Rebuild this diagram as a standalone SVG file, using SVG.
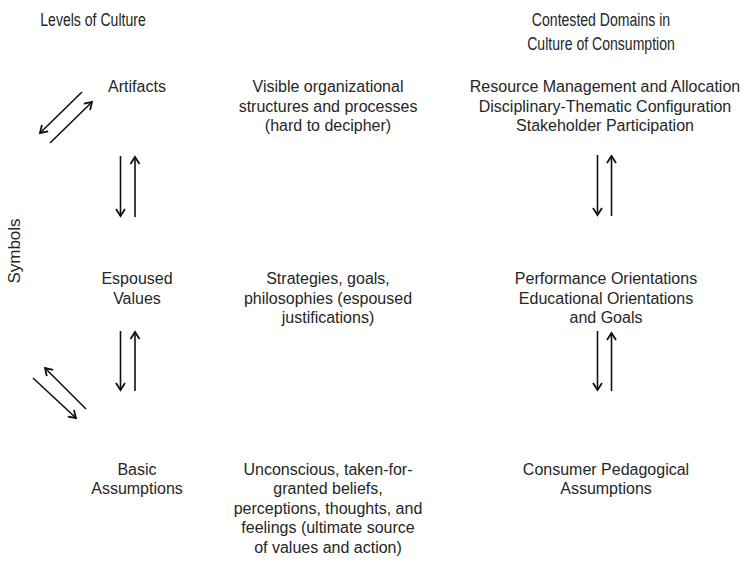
<svg xmlns="http://www.w3.org/2000/svg" width="749" height="562" viewBox="0 0 749 562">
<defs>
<style>
text{font-family:"Liberation Sans",Arial,sans-serif;fill:#262626;}
.t{font-size:16px;text-anchor:middle;}
.h{font-size:19px;text-anchor:middle;}
.s{font-size:17px;text-anchor:middle;}
.c{stroke:#111;stroke-width:1.6;fill:none;}
</style>
<marker id="ah" viewBox="-9 -6 11 12" markerWidth="11" markerHeight="12" refX="0" refY="0" orient="auto" markerUnits="userSpaceOnUse">
<path d="M-7,-4.5 L0,0 L-7,4.5" fill="none" stroke="#111" stroke-width="1.8"/>
</marker>
</defs>
<rect width="749" height="562" fill="#fff"/>
<g id="titles">
<text class="h" transform="translate(93,26) scale(0.74,1)">Levels of Culture</text>
<text class="h" transform="translate(601,26) scale(0.74,1)">Contested Domains in</text>
<text class="h" transform="translate(601,50) scale(0.74,1)">Culture of Consumption</text>
</g>
<g id="symbols">
<text class="s" transform="translate(20,251) rotate(-90)">Symbols</text>
</g>
<g id="artifacts"><text class="t" x="137" y="92">Artifacts</text></g>
<g id="artifacts-desc">
<text class="t" x="328" y="92">Visible organizational</text>
<text class="t" x="328" y="111.5">structures and processes</text>
<text class="t" x="328" y="131">(hard to decipher)</text>
</g>
<g id="domains-1">
<text class="t" x="605" y="92">Resource Management and Allocation</text>
<text class="t" x="605" y="111.5">Disciplinary-Thematic Configuration</text>
<text class="t" x="605" y="131">Stakeholder Participation</text>
</g>
<g id="espoused"><text class="t" x="137" y="284">Espoused</text><text class="t" x="137" y="303.5">Values</text></g>
<g id="espoused-desc">
<text class="t" x="328" y="284">Strategies, goals,</text>
<text class="t" x="328" y="303.5">philosophies (espoused</text>
<text class="t" x="328" y="323">justifications)</text>
</g>
<g id="domains-2">
<text class="t" x="606" y="284">Performance Orientations</text>
<text class="t" x="606" y="303.5">Educational Orientations</text>
<text class="t" x="606" y="323">and Goals</text>
</g>
<g id="basic"><text class="t" x="137" y="474.5">Basic</text><text class="t" x="137" y="494">Assumptions</text></g>
<g id="basic-desc">
<text class="t" x="328" y="474.5">Unconscious, taken-for-</text>
<text class="t" x="328" y="494">granted beliefs,</text>
<text class="t" x="328" y="513.5">perceptions, thoughts, and</text>
<text class="t" x="328" y="533">feelings (ultimate source</text>
<text class="t" x="328" y="552.5">of values and action)</text>
</g>
<g id="domains-3">
<text class="t" x="606" y="474.5">Consumer Pedagogical</text>
<text class="t" x="606" y="494">Assumptions</text>
</g>
<g id="connectors" class="c" marker-end="url(#ah)">
<line x1="82" y1="92" x2="40" y2="133"/>
<line x1="50" y1="143" x2="92" y2="102"/>
<line x1="120.5" y1="156" x2="120.5" y2="216"/>
<line x1="135" y1="217" x2="135" y2="157"/>
<line x1="120.5" y1="331" x2="120.5" y2="390"/>
<line x1="135" y1="391" x2="135" y2="332"/>
<line x1="33" y1="378" x2="76" y2="418"/>
<line x1="86" y1="409" x2="45" y2="368"/>
<line x1="597.5" y1="155" x2="597.5" y2="215"/>
<line x1="611.5" y1="216" x2="611.5" y2="156"/>
<line x1="597.5" y1="331" x2="597.5" y2="390"/>
<line x1="611.5" y1="391" x2="611.5" y2="333"/>
</g>
</svg>
